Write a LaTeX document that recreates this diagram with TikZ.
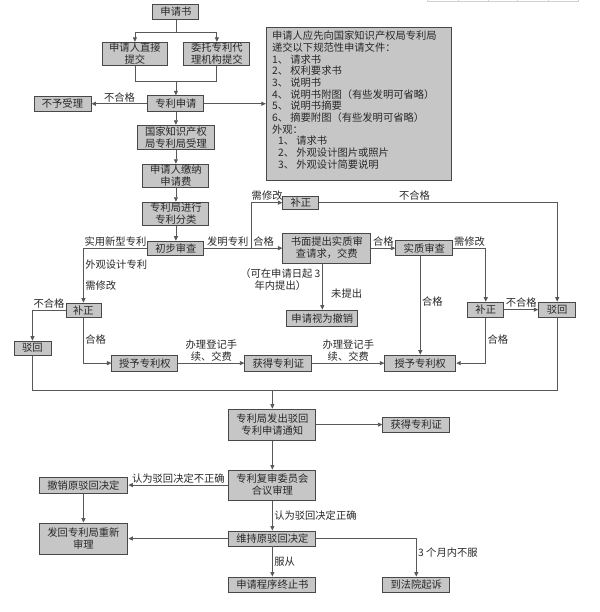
\documentclass[tikz,border=0pt]{standalone}
\usepackage{fontspec}
\setmainfont{Noto Sans CJK SC}
\usetikzlibrary{arrows.meta}
\definecolor{boxfill}{RGB}{198,198,198}
\definecolor{boxline}{RGB}{72,72,72}
\definecolor{wireclr}{RGB}{88,88,88}
\definecolor{ink}{RGB}{40,40,40}

\begin{document}
\begin{tikzpicture}[x=1pt,y=-1pt,
    procbox/.style={draw=boxline, fill=boxfill, line width=0.9pt, inner sep=0pt, align=center, text=ink, font=\fontsize{10.3}{12}\selectfont},
    flow/.style={draw=wireclr, line width=0.8pt},
    arr/.style={flow, -{Triangle[length=4.5pt,width=4pt]}},
    lbl/.style={text=ink, inner sep=1.5pt, align=center, font=\fontsize{10.3}{12}\selectfont}]

    % canvas
    \path[fill=white] (0,0) rectangle (600,612);
    \foreach \x in {428,459,489,518,549,579}
        \draw[gray!35, line width=0.6pt] (\x,0) -- (\x,1.5);
    \draw[gray!35, line width=0.6pt] (428,1.5) -- (579,1.5);

    % variables
    \def\colMain{176}
    \def\colReview{272.5}

    % Upper boxes
    \node[procbox, minimum width=46pt, minimum height=15pt] (shenqingshu) at (\colMain,11.5) {申请书};
    \node[procbox, minimum width=66pt, minimum height=23pt] (zhijie) at (135,53.5) {申请人直接\\提交};
    \node[procbox, minimum width=66pt, minimum height=23pt] (weituo) at (217,53.5) {委托专利代\\理机构提交};
    \node[procbox, minimum width=56pt, minimum height=16pt] (zhuanli) at (\colMain,103.5) {专利申请};
    \node[procbox, minimum width=57pt, minimum height=15pt] (buyu) at (62.5,103.5) {不予受理};
    \node[procbox, minimum width=77pt, minimum height=24pt] (shouli) at (\colMain,137) {国家知识产权\\局专利局受理};
    \node[procbox, minimum width=66pt, minimum height=23pt] (jiaona) at (\colMain,175.5) {申请人缴纳\\申请费};
    \node[procbox, minimum width=66pt, minimum height=23pt] (fenlei) at (\colMain,213.5) {专利局进行\\专利分类};
    \node[procbox, minimum width=56pt, minimum height=14pt] (chubu) at (\colMain,248) {初步审查};

    % Document list
    \node[procbox, minimum width=185pt, minimum height=153pt, anchor=north west] (wenjian) at (266,27) {};
    \node[lbl, anchor=north west, inner sep=0pt, align=left, font=\fontsize{10.3}{11.7}\selectfont] (wenjiantxt) at ([shift={(6,3.5)}]wenjian.north west) {%
        申请人应先向国家知识产权局专利局\\
        递交以下规范性申请文件：\\
        1、 请求书\\
        2、 权利要求书\\
        3、 说明书\\
        4、 说明书附图（有些发明可省略）\\
        5、 说明书摘要\\
        6、 摘要附图（有些发明可省略）\\
        外观：\\
        \hspace*{6pt}1、 请求书\\
        \hspace*{6pt}2、 外观设计图片或照片\\
        \hspace*{6pt}3、 外观设计简要说明};

    % Examination boxes
    \node[procbox, minimum width=36pt, minimum height=13pt] (buzhengA) at (301,202.5) {补正};
    \node[procbox, minimum width=88pt, minimum height=30pt] (shumian) at (327,248) {书面提出实质审\\查请求，交费};
    \node[procbox, minimum width=71pt, minimum height=16pt] (chexiao) at (322.5,318) {申请视为撤销};
    \node[procbox, minimum width=57pt, minimum height=15pt] (shizhi) at (424.5,248) {实质审查};
    \node[procbox, minimum width=35pt, minimum height=14pt] (buzhengB) at (83.5,310) {补正};
    \node[procbox, minimum width=37pt, minimum height=14pt] (bohuiA) at (32.5,348) {驳回};
    \node[procbox, minimum width=36pt, minimum height=15pt] (buzhengC) at (486,309.5) {补正};
    \node[procbox, minimum width=37pt, minimum height=15pt] (bohuiB) at (557.5,309.5) {驳回};
    \node[procbox, minimum width=66pt, minimum height=16pt] (shouyuA) at (145,363) {授予专利权};
    \node[procbox, minimum width=67pt, minimum height=16pt] (huodeA) at (278.5,363) {获得专利证};
    \node[procbox, minimum width=71pt, minimum height=16pt] (shouyuB) at (420.5,363) {授予专利权};
    \node[lbl] (shixian) at (280.5,279) {（可在申请日起 3\\年内提出）};

    % Review boxes
    \node[procbox, minimum width=87pt, minimum height=31pt] (tongzhi) at (\colReview,424.5) {专利局发出驳回\\专利申请通知};
    \node[procbox, minimum width=67pt, minimum height=15pt] (huodeB) at (416.5,424.5) {获得专利证};
    \node[procbox, minimum width=87pt, minimum height=30pt] (fushen) at (\colReview,485) {专利复审委员会\\合议审理};
    \node[procbox, minimum width=89pt, minimum height=16pt] (chexiaoyuan) at (83.5,485) {撤销原驳回决定};
    \node[procbox, minimum width=89pt, minimum height=31pt] (fahui) at (83.5,538.5) {发回专利局重新\\审理};
    \node[procbox, minimum width=87pt, minimum height=15pt] (weichi) at (\colReview,538.5) {维持原驳回决定};
    \node[procbox, minimum width=87pt, minimum height=15pt] (zhongzhi) at (\colReview,584.5) {申请程序终止书};
    \node[procbox, minimum width=67pt, minimum height=15pt] (fayuan) at (416.5,584.5) {到法院起诉};

    % Filing
    \coordinate (splitTop) at (\colMain,32);
    \coordinate (joinTop) at (\colMain,81);
    \draw[flow] (shenqingshu) -- (splitTop);
    \draw[arr] (splitTop) -| (zhijie);
    \draw[arr] (splitTop) -| (weituo);
    \draw[flow] (zhijie) |- (joinTop);
    \draw[flow] (weituo) |- (joinTop);
    \draw[arr] (joinTop) -- (zhuanli);
    \draw[arr] (zhuanli) -- node[lbl, above] (lblBuhegeA) {不合格} (buyu);
    \draw[arr] (zhuanli) -- (zhuanli -| wenjian.west);
    \draw[arr] (zhuanli) -- (shouli);
    \draw[arr] (shouli) -- (jiaona);
    \draw[arr] (jiaona) -- (fenlei);
    \draw[arr] (fenlei) -- (chubu);

    % Utility model and design
    \draw[arr] (chubu) -| node[lbl, above, pos=0.25] (lblShiyong) {实用新型专利}
        node[lbl, right, pos=0.655] (lblWaiguan) {外观设计专利}
        node[lbl, right, pos=0.84] (lblXiugaiA) {需修改} (buzhengB);
    \draw[arr] (buzhengB) -| node[lbl, above, pos=0.25] (lblBuhegeB) {不合格} (bohuiA);
    \draw[arr] (buzhengB) |- node[lbl, right, pos=0.24] (lblHegeA) {合格} (shouyuA);
    \draw[arr] (shouyuA) -- node[lbl, above] (lblDengjiA) {办理登记手\\续、交费} (huodeA);
    \draw[arr] (huodeA) -- node[lbl, above] (lblDengjiB) {办理登记手\\续、交费} (shouyuB);

    % Invention
    \coordinate (fork) at (252,248);
    \draw[arr] (chubu) -- node[lbl, above, pos=0.30] (lblFaming) {发明专利}
        node[lbl, above, pos=0.76] (lblHegeB) {合格} (shumian);
    \draw[arr] (fork) |- node[lbl, above, pos=0.75] (lblXiugaiB) {需修改} (buzhengA);
    \draw[arr] (buzhengA) -| node[lbl, above, pos=0.2] (lblBuhegeC) {不合格} (bohuiB);
    \draw[arr] (shumian.south -| chexiao) -- node[lbl, right, pos=0.66, xshift=7pt] (lblWeitichu) {未提出} (chexiao);
    \draw[arr] (shumian) -- node[lbl, above] (lblHegeC) {合格} (shizhi);
    \draw[arr] (shizhi) -| node[lbl, above, pos=0.25] (lblXiugaiC) {需修改} (buzhengC);
    \draw[arr] (shizhi.south -| shouyuB) -- node[lbl, right, pos=0.46] (lblHegeD) {合格} (shouyuB);
    \draw[arr] (buzhengC) -- node[lbl, above] (lblBuhegeD) {不合格} (bohuiB);
    \draw[arr] (buzhengC) |- node[lbl, right, pos=0.24] (lblHegeE) {合格} (shouyuB);

    % Rejection and review
    \coordinate (loopL) at (32.5,390);
    \coordinate (loopR) at (557.5,390);
    \coordinate (loopM) at (\colReview,390);
    \draw[flow] (bohuiA) -- (loopL) -- (loopR) -- (bohuiB);
    \draw[arr] (loopM) -- (tongzhi);
    \draw[arr] (tongzhi) -- (huodeB);
    \draw[arr] (tongzhi) -- (fushen);
    \draw[arr] (fushen) -- node[lbl, above] (lblBuzhengque) {认为驳回决定不正确} (chexiaoyuan);
    \draw[arr] (chexiaoyuan) -- (fahui);
    \draw[arr] (fushen) -- node[lbl, right] (lblZhengque) {认为驳回决定正确} (weichi);
    \draw[arr] (weichi) -- (fahui);
    \draw[arr] (weichi) -- node[lbl, right] (lblFucong) {服从} (zhongzhi);
    \draw[arr] (weichi) -| node[lbl, right, pos=0.69] (lblBufu) {3 个月内不服} (fayuan);
\end{tikzpicture}
\end{document}
